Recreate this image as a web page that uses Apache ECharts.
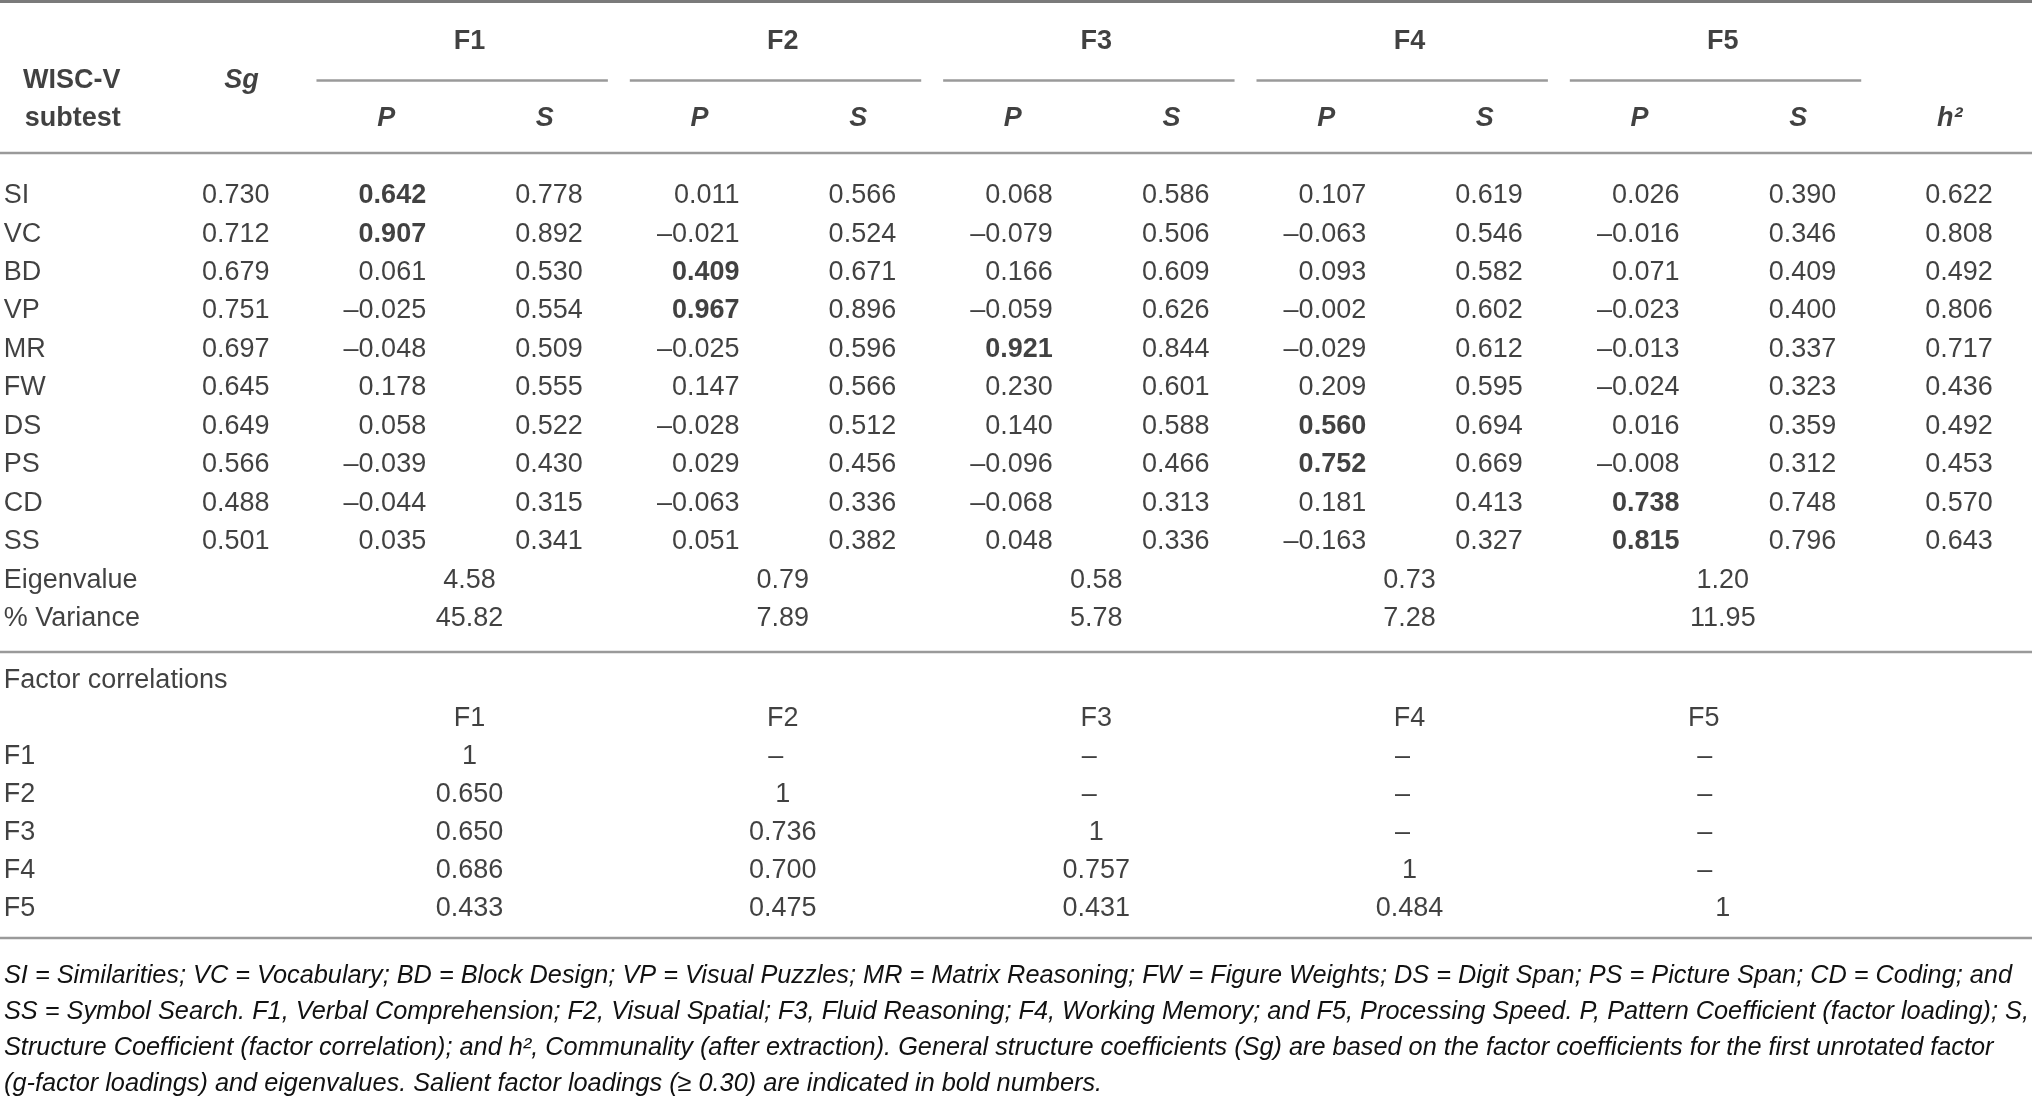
<!DOCTYPE html>
<html>
<head>
<meta charset="utf-8">
<script src="https://cdn.jsdelivr.net/npm/echarts@6/dist/echarts.min.js"></script>
<style>
  html, body { margin: 0; padding: 0; background: #fff; }
  #main { width: 2032px; height: 1100px; }
</style>
</head>
<body>
<div id="main"></div>
<script>
// table data
const subtests = ['SI', 'VC', 'BD', 'VP', 'MR', 'FW', 'DS', 'PS', 'CD', 'SS']
const factors = ['F1', 'F2', 'F3', 'F4', 'F5']
const sg = [0.730, 0.712, 0.679, 0.751, 0.697, 0.645, 0.649, 0.566, 0.488, 0.501]
const f1P = [0.642, 0.907, 0.061, -0.025, -0.048, 0.178, 0.058, -0.039, -0.044, 0.035]
const f1S = [0.778, 0.892, 0.530, 0.554, 0.509, 0.555, 0.522, 0.430, 0.315, 0.341]
const f2P = [0.011, -0.021, 0.409, 0.967, -0.025, 0.147, -0.028, 0.029, -0.063, 0.051]
const f2S = [0.566, 0.524, 0.671, 0.896, 0.596, 0.566, 0.512, 0.456, 0.336, 0.382]
const f3P = [0.068, -0.079, 0.166, -0.059, 0.921, 0.230, 0.140, -0.096, -0.068, 0.048]
const f3S = [0.586, 0.506, 0.609, 0.626, 0.844, 0.601, 0.588, 0.466, 0.313, 0.336]
const f4P = [0.107, -0.063, 0.093, -0.002, -0.029, 0.209, 0.560, 0.752, 0.181, -0.163]
const f4S = [0.619, 0.546, 0.582, 0.602, 0.612, 0.595, 0.694, 0.669, 0.413, 0.327]
const f5P = [0.026, -0.016, 0.071, -0.023, -0.013, -0.024, 0.016, -0.008, 0.738, 0.815]
const f5S = [0.390, 0.346, 0.409, 0.400, 0.337, 0.323, 0.359, 0.312, 0.748, 0.796]
const h2 = [0.622, 0.808, 0.492, 0.806, 0.717, 0.436, 0.492, 0.453, 0.570, 0.643]
const eigenvalue = ['4.58', '0.79', '0.58', '0.73', '1.20']
const variance = ['45.82', '7.89', '5.78', '7.28', '11.95']
// factor correlations, lower triangle
const corr = [
  [1],
  [0.650, 1],
  [0.650, 0.736, 1],
  [0.686, 0.700, 0.757, 1],
  [0.433, 0.475, 0.431, 0.484, 1],
]
const salient = 0.30
const footnote = [
  'SI = Similarities; VC = Vocabulary; BD = Block Design; VP = Visual Puzzles; MR = Matrix Reasoning; FW = Figure Weights; DS = Digit Span; PS = Picture Span; CD = Coding; and',
  'SS = Symbol Search. F1, Verbal Comprehension; F2, Visual Spatial; F3, Fluid Reasoning; F4, Working Memory; and F5, Processing Speed. P, Pattern Coefficient (factor loading); S,',
  'Structure Coefficient (factor correlation); and h², Communality (after extraction). General structure coefficients (Sg) are based on the factor coefficients for the first unrotated factor',
  '(g-factor loadings) and eigenvalues. Salient factor loadings (≥ 0.30) are indicated in bold numbers.',
]

const FONT = '"Liberation Sans", Arial, sans-serif'
const INK = '#111'
const fmt3 = (v) => (v < 0 ? '–' : '') + Math.abs(v).toFixed(3)

// columns: -1 = row label, 0 = Sg, 1..10 = P/S pairs, 11 = h2
const valueCols = [sg, f1P, f1S, f2P, f2S, f3P, f3S, f4P, f4S, f5P, f5S, h2]
const topRows = ['hF', 'hW', 'hS', 'rule'].concat(subtests, ['Eigenvalue', '% Variance'])
const corrRows = ['Factor correlations', 'cH'].concat(factors)

function cell(x, row, text, opt = {}) {
  return {
    value: [x, row],
    text: text,
    label: {
      align: opt.align || 'center',
      offset: [opt.dx || 0, 0],
      fontWeight: opt.bold ? 'bold' : 'normal',
      fontStyle: opt.italic ? 'italic' : 'normal',
    },
  }
}

const topCells = []
factors.forEach((f, k) => {
  topCells.push(cell(1.5 + 2 * k, 'hF', f, { bold: true }))
  topCells.push(cell(1 + 2 * k, 'hS', 'P', { bold: true, italic: true, dx: -5 }))
  topCells.push(cell(2 + 2 * k, 'hS', 'S', { bold: true, italic: true, dx: -3 }))
})
topCells.push(cell(-1, 'hW', 'WISC-V', { bold: true, dx: -6 }))
topCells.push(cell(-1, 'hS', 'subtest', { bold: true, dx: -5 }))
topCells.push(cell(0, 'hW', 'Sg', { bold: true, italic: true, dx: 7 }))
topCells.push(cell(11, 'hS', 'h²', { bold: true, italic: true, dx: -8 }))
subtests.forEach((s, r) => {
  topCells.push(cell(-1, s, s, { align: 'left', dx: -74 }))
  valueCols.forEach((col, c) => {
    const isP = c >= 1 && c <= 10 && c % 2 === 1
    topCells.push(cell(c, s, fmt3(col[r]), { align: 'right', dx: 35, bold: isP && col[r] >= salient }))
  })
})
topCells.push(cell(-1, 'Eigenvalue', 'Eigenvalue', { align: 'left', dx: -74 }))
topCells.push(cell(-1, '% Variance', '% Variance', { align: 'left', dx: -74 }))
factors.forEach((f, k) => {
  topCells.push(cell(1.5 + 2 * k, 'Eigenvalue', eigenvalue[k]))
  topCells.push(cell(1.5 + 2 * k, '% Variance', variance[k]))
})

const corrCells = []
corrCells.push(cell(-1, 'Factor correlations', 'Factor correlations', { align: 'left', dx: -74 }))
factors.forEach((f, k) => {
  corrCells.push(cell(1.5 + 2 * k, 'cH', f, { dx: k === 4 ? -19 : 0 }))
  corrCells.push(cell(-1, f, f, { align: 'left', dx: -74 }))
  factors.forEach((g, c) => {
    let t = '–'
    if (c < k) t = fmt3(corr[k][c])
    else if (c === k) t = '1'
    corrCells.push(cell(1.5 + 2 * c, f, t, { dx: t === '–' ? (c === 4 ? -18 : -7) : 0 }))
  })
})

const labelBase = {
  show: true,
  position: [0, 0],
  verticalAlign: 'middle',
  fontFamily: FONT,
  fontSize: 27,
  color: INK,
  formatter: (p) => p.data.text,
}

function hRule(y, w, c) {
  return {
    type: 'line',
    silent: true,
    shape: { x1: 0, y1: y, x2: 2032, y2: y },
    style: { stroke: c, lineWidth: w },
  }
}

const chart = echarts.init(document.getElementById('main'), null, { renderer: 'canvas' })
chart.setOption({
  backgroundColor: '#fff',
  animation: false,
  grid: [
    { left: 0, right: 0, top: 23, height: 615.5 },
    { left: 0, right: 0, top: 662, height: 266 },
  ],
  xAxis: [
    { gridIndex: 0, type: 'value', min: -1.5, max: 11.47, show: false },
    { gridIndex: 1, type: 'value', min: -1.5, max: 11.47, show: false },
  ],
  yAxis: [
    { gridIndex: 0, type: 'category', inverse: true, data: topRows, show: false },
    { gridIndex: 1, type: 'category', inverse: true, data: corrRows, show: false },
  ],
  title: {
    text: footnote.join('\n'),
    left: 4,
    top: 958,
    padding: 0,
    textStyle: {
      fontFamily: FONT,
      fontSize: 25.3,
      fontStyle: 'italic',
      fontWeight: 'normal',
      color: INK,
      lineHeight: 36,
    },
  },
  graphic: [
    hRule(1.5, 3, '#7a7a7a'),
    hRule(153, 2.5, '#9a9a9a'),
    hRule(652, 2.5, '#9a9a9a'),
    hRule(938, 2.5, '#9a9a9a'),
  ],
  series: [
    {
      type: 'scatter',
      xAxisIndex: 0,
      yAxisIndex: 0,
      symbolSize: 1,
      clip: false,
      silent: true,
      itemStyle: { color: 'rgba(0,0,0,0)' },
      label: labelBase,
      data: topCells,
      markLine: {
        silent: true,
        symbol: 'none',
        label: { show: false },
        lineStyle: { color: '#9a9a9a', width: 2.5, type: 'solid' },
        data: factors.map((f, k) => [
          { coord: [0.52 + 2 * k, 1] },
          { coord: [2.38 + 2 * k, 1] },
        ]),
      },
    },
    {
      type: 'scatter',
      xAxisIndex: 1,
      yAxisIndex: 1,
      symbolSize: 1,
      clip: false,
      silent: true,
      itemStyle: { color: 'rgba(0,0,0,0)' },
      label: labelBase,
      data: corrCells,
    },
  ],
})
</script>
</body>
</html>
